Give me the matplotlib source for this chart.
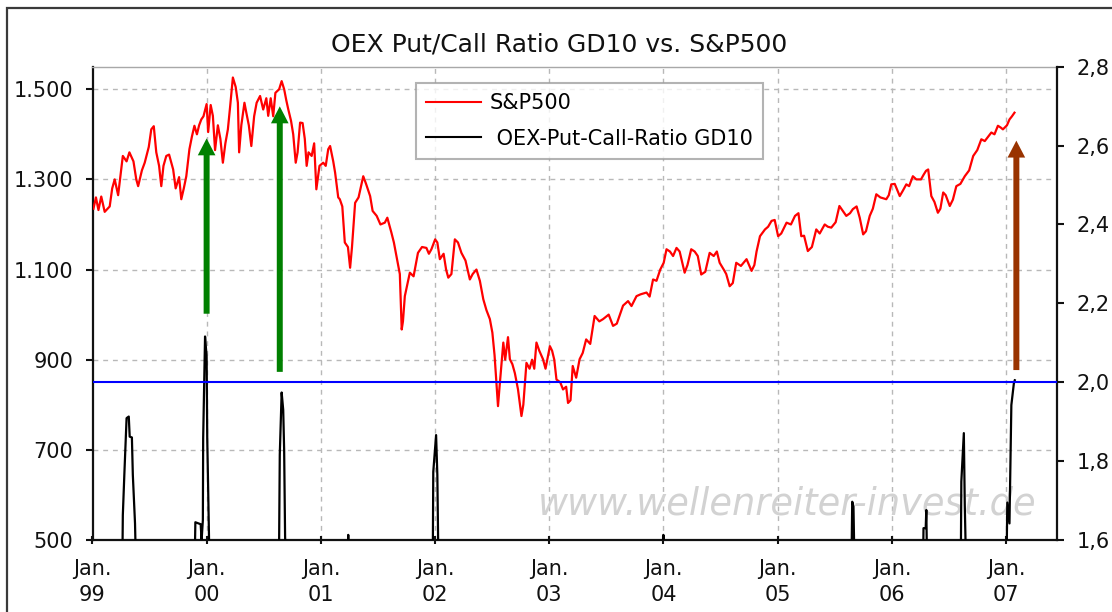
import matplotlib
matplotlib.use('Agg')
import matplotlib.pyplot as plt
from matplotlib.patches import Rectangle
from matplotlib.lines import Line2D
import pandas as pd

# ---------------- data ----------------
sp_dates = [
    '1999-01-04', '1999-01-12', '1999-01-20', '1999-01-29', '1999-02-09', '1999-02-25', '1999-03-05',
    '1999-03-13', '1999-03-24', '1999-04-08', '1999-04-20', '1999-04-29', '1999-05-12', '1999-05-21',
    '1999-05-27', '1999-06-08', '1999-06-17', '1999-06-30', '1999-07-08', '1999-07-16', '1999-07-24',
    '1999-08-02', '1999-08-09', '1999-08-16', '1999-08-25', '1999-09-03', '1999-09-16', '1999-09-24',
    '1999-10-05', '1999-10-12', '1999-10-20', '1999-10-28', '1999-11-07', '1999-11-15', '1999-11-23',
    '1999-12-01', '1999-12-08', '1999-12-15', '1999-12-22', '2000-01-01', '2000-01-06', '2000-01-14',
    '2000-01-21', '2000-01-28', '2000-02-06', '2000-02-14', '2000-02-22', '2000-03-01', '2000-03-09',
    '2000-03-16', '2000-03-25', '2000-04-03', '2000-04-10', '2000-04-14', '2000-04-21', '2000-05-01',
    '2000-05-07', '2000-05-15', '2000-05-23', '2000-06-01', '2000-06-09', '2000-06-20', '2000-06-30',
    '2000-07-10', '2000-07-16', '2000-07-24', '2000-08-01', '2000-08-08', '2000-08-20', '2000-08-28',
    '2000-09-05', '2000-09-12', '2000-09-18', '2000-09-27', '2000-10-04', '2000-10-12', '2000-10-18',
    '2000-10-26', '2000-11-03', '2000-11-10', '2000-11-16', '2000-11-22', '2000-12-02', '2000-12-10',
    '2000-12-17', '2000-12-27', '2001-01-08', '2001-01-16', '2001-01-24', '2001-01-30', '2001-02-09',
    '2001-02-15', '2001-02-25', '2001-03-02', '2001-03-10', '2001-03-18', '2001-03-28', '2001-04-04',
    '2001-04-10', '2001-04-20', '2001-05-01', '2001-05-16', '2001-05-25', '2001-06-07', '2001-06-15',
    '2001-06-28', '2001-07-10', '2001-07-24', '2001-08-01', '2001-08-14', '2001-08-22', '2001-08-30',
    '2001-09-10', '2001-09-16', '2001-09-20', '2001-09-26', '2001-10-12', '2001-10-24', '2001-11-07',
    '2001-11-20', '2001-12-04', '2001-12-12', '2001-12-20', '2002-01-01', '2002-01-08', '2002-01-16',
    '2002-01-28', '2002-02-05', '2002-02-12', '2002-02-22', '2002-03-05', '2002-03-15', '2002-03-26',
    '2002-04-08', '2002-04-22', '2002-05-01', '2002-05-13', '2002-05-24', '2002-06-04', '2002-06-14',
    '2002-06-25', '2002-07-03', '2002-07-10', '2002-07-16', '2002-07-21', '2002-07-26', '2002-08-07',
    '2002-08-13', '2002-08-22', '2002-08-28', '2002-09-05', '2002-09-13', '2002-09-23', '2002-10-04',
    '2002-10-10', '2002-10-20', '2002-10-30', '2002-11-07', '2002-11-14', '2002-11-21', '2002-11-30',
    '2002-12-12', '2002-12-20', '2003-01-03', '2003-01-10', '2003-01-17', '2003-01-24', '2003-02-05',
    '2003-02-14', '2003-02-24', '2003-03-02', '2003-03-10', '2003-03-17', '2003-03-28', '2003-04-08',
    '2003-04-18', '2003-04-29', '2003-05-12', '2003-05-26', '2003-06-10', '2003-06-22', '2003-07-10',
    '2003-07-24', '2003-08-05', '2003-08-15', '2003-08-25', '2003-09-10', '2003-09-21', '2003-10-07',
    '2003-10-20', '2003-11-08', '2003-11-18', '2003-11-29', '2003-12-10', '2003-12-22', '2004-01-02',
    '2004-01-11', '2004-01-22', '2004-02-01', '2004-02-12', '2004-02-22', '2004-03-09', '2004-03-18',
    '2004-03-30', '2004-04-10', '2004-04-20', '2004-05-01', '2004-05-14', '2004-05-28', '2004-06-10',
    '2004-06-20', '2004-06-29', '2004-07-12', '2004-07-20', '2004-07-31', '2004-08-10', '2004-08-21',
    '2004-09-05', '2004-09-23', '2004-10-09', '2004-10-18', '2004-10-25', '2004-11-05', '2004-11-21',
    '2004-12-01', '2004-12-12', '2004-12-22', '2005-01-02', '2005-01-12', '2005-01-29', '2005-02-12',
    '2005-02-25', '2005-03-08', '2005-03-17', '2005-03-26', '2005-04-07', '2005-04-20', '2005-05-04',
    '2005-05-15', '2005-05-31', '2005-06-10', '2005-06-21', '2005-07-05', '2005-07-17', '2005-07-28',
    '2005-08-08', '2005-08-20', '2005-08-29', '2005-09-10', '2005-09-20', '2005-10-01', '2005-10-10',
    '2005-10-22', '2005-11-01', '2005-11-12', '2005-11-25', '2005-12-14', '2005-12-22', '2005-12-30',
    '2006-01-10', '2006-01-26', '2006-02-05', '2006-02-16', '2006-02-25', '2006-03-09', '2006-03-20',
    '2006-04-04', '2006-04-12', '2006-04-20', '2006-04-27', '2006-05-07', '2006-05-17', '2006-05-28',
    '2006-06-05', '2006-06-14', '2006-06-22', '2006-07-05', '2006-07-15', '2006-07-26', '2006-08-08',
    '2006-08-22', '2006-09-05', '2006-09-18', '2006-10-01', '2006-10-14', '2006-10-25', '2006-11-05',
    '2006-11-15', '2006-11-25', '2006-12-06', '2006-12-15', '2006-12-22', '2007-01-04', '2007-01-12',
    '2007-01-20', '2007-01-28',
]
sp_values = [
    1235, 1260, 1232, 1262, 1228, 1240, 1280,
    1300, 1265, 1352, 1340, 1360, 1340, 1300,
    1285, 1320, 1337, 1372, 1411, 1418, 1360,
    1330, 1285, 1330, 1352, 1355, 1322, 1280,
    1305, 1256, 1280, 1307, 1367, 1395, 1419,
    1400, 1420, 1433, 1440, 1467, 1405, 1465,
    1441, 1365, 1420, 1390, 1337, 1380, 1411,
    1460, 1526, 1505, 1470, 1360, 1420, 1470,
    1448, 1420, 1374, 1440, 1470, 1485, 1455,
    1480, 1441, 1480, 1440, 1492, 1500, 1518,
    1500, 1475, 1456, 1430, 1400, 1337, 1360,
    1426, 1425, 1390, 1330, 1360, 1352, 1380,
    1278, 1330, 1337, 1330, 1367, 1374, 1340,
    1315, 1260, 1256, 1240, 1160, 1150, 1104,
    1150, 1248, 1260, 1307, 1290, 1263, 1230,
    1219, 1200, 1204, 1215, 1182, 1160, 1130,
    1090, 967, 985, 1041, 1093, 1085, 1137,
    1150, 1148, 1135, 1145, 1167, 1160, 1123,
    1135, 1100, 1082, 1090, 1167, 1160, 1137,
    1120, 1078, 1090, 1100, 1075, 1034, 1010,
    990, 960, 910, 849, 797, 840, 938,
    900, 950, 901, 890, 870, 834, 775,
    800, 893, 880, 900, 880, 938, 920,
    901, 880, 930, 920, 900, 856, 850,
    834, 840, 804, 810, 886, 860, 901,
    915, 945, 935, 997, 985, 990, 1000,
    975, 980, 1000, 1020, 1030, 1019, 1041,
    1045, 1049, 1040, 1078, 1075, 1100, 1115,
    1145, 1140, 1130, 1148, 1140, 1093, 1110,
    1145, 1140, 1130, 1089, 1095, 1137, 1130,
    1140, 1115, 1100, 1090, 1063, 1070, 1115,
    1108, 1123, 1097, 1110, 1140, 1174, 1189,
    1195, 1208, 1210, 1174, 1180, 1204, 1200,
    1219, 1225, 1174, 1175, 1141, 1150, 1189,
    1180, 1200, 1195, 1193, 1205, 1241, 1230,
    1219, 1225, 1234, 1240, 1215, 1178, 1185,
    1219, 1235, 1267, 1260, 1256, 1265, 1289,
    1290, 1263, 1275, 1289, 1285, 1307, 1300,
    1300, 1310, 1319, 1322, 1263, 1250, 1226,
    1235, 1271, 1265, 1241, 1255, 1285, 1290,
    1307, 1320, 1352, 1365, 1389, 1385, 1395,
    1404, 1400, 1419, 1415, 1411, 1420, 1433,
    1440, 1448,
]

pc_dates = [
    '1999-01-04', '1999-04-06', '1999-04-08', '1999-04-13', '1999-04-20', '1999-04-27', '1999-04-30',
    '1999-05-07', '1999-05-10', '1999-05-17', '1999-05-21',
    '1999-11-23', '1999-11-26', '1999-12-13', '1999-12-16', '1999-12-20', '1999-12-21', '1999-12-27',
    '2000-01-01', '2000-01-03', '2000-01-06', '2000-01-11',
    '2000-08-19', '2000-08-22', '2000-08-28', '2000-09-02', '2000-09-05', '2000-09-08', '2000-09-12',
    '2001-03-27', '2001-03-29', '2001-03-31',
    '2001-12-24', '2001-12-26', '2002-01-04', '2002-01-08', '2002-01-12',
    '2003-12-30', '2004-01-01', '2004-01-03',
    '2005-08-24', '2005-08-27', '2005-08-31', '2005-09-04',
    '2006-04-10', '2006-04-12', '2006-04-19', '2006-04-21', '2006-04-24',
    '2006-08-09', '2006-08-11', '2006-08-19', '2006-08-22', '2006-08-27',
    '2007-01-02', '2007-01-05', '2007-01-12', '2007-01-18', '2007-01-26', '2007-01-29',
]
pc_values = [
    1.50, 1.50, 1.663, 1.769, 1.909, 1.913, 1.862,
    1.860, 1.765, 1.642, 1.50,
    1.50, 1.645, 1.640, 1.60, 1.65, 1.858, 2.116,
    2.065, 1.858, 1.727, 1.50,
    1.50, 1.816, 1.974, 1.930, 1.828, 1.610, 1.50,
    1.50, 1.613, 1.50,
    1.50, 1.773, 1.866, 1.765, 1.50,
    1.50, 1.613, 1.50,
    1.50, 1.697, 1.685, 1.50,
    1.50, 1.630, 1.630, 1.676, 1.50,
    1.50, 1.748, 1.871, 1.689, 1.50,
    1.50, 1.695, 1.642, 1.942, 1.997, 2.005,
]

left_ticks = [500, 700, 900, 1100, 1300, 1500]
left_labels = ['500', '700', '900', '1.100', '1.300', '1.500']
right_ticks = [1.6, 1.8, 2.0, 2.2, 2.4, 2.6, 2.8]
right_labels = ['1,6', '1,8', '2,0', '2,2', '2,4', '2,6', '2,8']
year_ticks = ['1999-01-01', '2000-01-01', '2001-01-01', '2002-01-01', '2003-01-01',
              '2004-01-01', '2005-01-01', '2006-01-01', '2007-01-01']
year_labels = ['Jan.\n99', 'Jan.\n00', 'Jan.\n01', 'Jan.\n02', 'Jan.\n03',
               'Jan.\n04', 'Jan.\n05', 'Jan.\n06', 'Jan.\n07']
threshold = 2.0

arrow_dates = ['2000-01-01', '2000-08-22', '2007-02-03']
arrow_base = [1002, 873, 877]
arrow_tip = [1391, 1462, 1386]
arrow_colors = ['#008000', '#008000', '#993300']

title = 'OEX Put/Call Ratio GD10 vs. S&P500'
sp_label = 'S&P500'
pc_label = ' OEX-Put-Call-Ratio GD10'
watermark = 'www.wellenreiter-invest.de'

# ---------------- figure ----------------
W, H = 1112, 612
fig = plt.figure(figsize=(W / 100, H / 100), dpi=100)
fig.patch.set_facecolor('white')

L, R, T, B = 92.5, 1057, 66.7, 540
ax = fig.add_axes([L / W, 1 - B / H, (R - L) / W, (B - T) / H])
ax2 = ax.twinx()

sp_x = pd.to_datetime(sp_dates)
pc_x = pd.to_datetime(pc_dates)

ax.set_axisbelow(True)
ax.plot(sp_x, sp_values, color='#ff0000', lw=1.6, zorder=3)

ax2.plot(pc_x, pc_values, color='black', lw=1.6, zorder=3)
ax2.axhline(threshold, color='#0000ff', lw=1.5, zorder=4)

ax.set_ylim(500, 1550)
ax2.set_ylim(1.6, 2.8)
ax.set_xlim(pd.Timestamp('1999-01-01'), pd.Timestamp('2007-06-13'))

ax.set_yticks(left_ticks)
ax.set_yticklabels(left_labels)
ax2.set_yticks(right_ticks)
ax2.set_yticklabels(right_labels)
ax.set_xticks(pd.to_datetime(year_ticks))
ax.set_xticklabels(year_labels, linespacing=1.35)

grid_kw = dict(color='#b8b8b8', lw=1.0, linestyle=(0, (3.5, 3.5)))
ax.grid(True, axis='both', **grid_kw)

ax.tick_params(axis='y', direction='out', length=5, width=1.5, pad=9, labelsize=15, colors='#111111')
ax.tick_params(axis='x', direction='inout', length=6, width=1.5, pad=11, labelsize=15, colors='#111111')
ax2.tick_params(axis='y', direction='out', length=5, width=1.5, pad=9, labelsize=15, colors='#111111')

for s in ['left', 'bottom']:
    ax.spines[s].set_color('#111111')
    ax.spines[s].set_linewidth(1.6)
ax.spines['right'].set_visible(False)
ax.spines['top'].set_color('#a8a8a8')
ax.spines['top'].set_linewidth(1.0)
for s in ['left', 'bottom', 'top']:
    ax2.spines[s].set_visible(False)
ax2.spines['right'].set_color('#111111')
ax2.spines['right'].set_linewidth(1.6)

# arrows
for d, yb, yt, c in zip(arrow_dates, arrow_base, arrow_tip, arrow_colors):
    ax.annotate('', xy=(pd.Timestamp(d), yt), xytext=(pd.Timestamp(d), yb),
                arrowprops=dict(arrowstyle='simple,head_length=12.2,head_width=12.7,tail_width=4.3',
                                mutation_scale=1, color=c, lw=0, shrinkA=0, shrinkB=0),
                zorder=5)

# watermark
ax.text(0.72, 0.076, watermark, transform=ax.transAxes, ha='center', va='center',
        fontsize=26.5, style='italic', color='#d2d2d2', zorder=1)

# legend
handles = [Line2D([], [], color='#ff0000', lw=1.5), Line2D([], [], color='black', lw=1.5)]
leg = ax2.legend(handles, [sp_label, pc_label], loc='upper left',
                 bbox_to_anchor=((416 - L) / (R - L), (B - 82.7) / (B - T)),
                 borderaxespad=0, fontsize=15, frameon=True, fancybox=False,
                 handlelength=2.6, handletextpad=0.45, labelspacing=0.75, borderpad=0.5)
leg.get_frame().set_edgecolor('#a0a0a0')
leg.get_frame().set_linewidth(1.5)
leg.set_zorder(10)

# title
fig.text(559 / W, 1 - 44 / H, title, ha='center', va='center', fontsize=18, color='#111111')

# outer frame
fig.add_artist(Rectangle((7 / W, -0.1), 1.2, (H - 8) / H + 0.1, transform=fig.transFigure,
                         fill=False, edgecolor='#3a3a3a', lw=1.6, clip_on=False))

fig.savefig('out.png', dpi=100, facecolor='white')
